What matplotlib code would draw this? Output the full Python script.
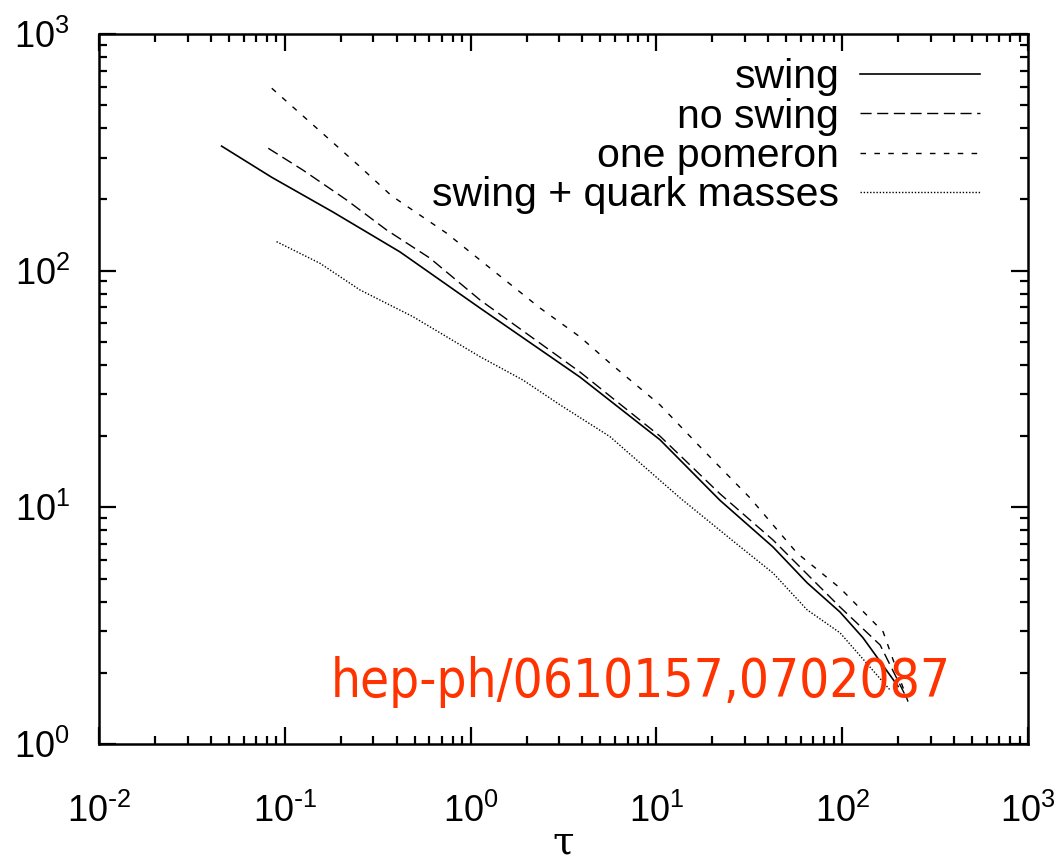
import matplotlib
matplotlib.use("Agg")
import matplotlib.pyplot as plt
from matplotlib.ticker import LogLocator, FuncFormatter
import numpy as np

# values (log-log)
swing_x = [0.0457, 0.0851, 0.1815, 0.417, 1.124, 3.88, 10.45, 22.0, 42.4, 64.7, 97.3, 129.4, 200]
swing_y = [336, 248, 177, 120, 69.5, 35.5, 19.3, 10.7, 6.80, 4.80, 3.61, 2.81, 1.75]

noswing_x = [0.0815, 0.1253, 0.215, 0.353, 0.604, 1.124, 3.88, 10.45, 22.0, 42.4, 97.3, 160, 218]
noswing_y = [329, 266, 199, 148.6, 113, 75.2, 37.3, 20.0, 11.4, 7.28, 3.79, 2.62, 1.61]

pomeron_x = [0.0851, 0.1486, 0.254, 0.376, 0.743, 1.272, 2.36, 3.88, 5.62, 10.45, 17.2, 31.9, 57.1, 97.3, 166, 226]
pomeron_y = [590, 400, 275, 207, 144, 102.6, 69.6, 52.5, 40.7, 27.1, 18.0, 10.96, 6.41, 4.56, 2.98, 1.51]

quark_x = [0.0903, 0.1545, 0.254, 0.490, 1.124, 1.914, 3.03, 5.62, 13.4, 28.2, 42.4, 64.7, 97.3, 181]
quark_y = [132.6, 107.5, 82.9, 63.9, 43.3, 34.5, 27.1, 19.9, 10.96, 6.82, 5.28, 3.69, 2.95, 1.69]

labels = ["swing", "no swing", "one pomeron", "swing + quark masses"]

plt.rcParams["font.family"] = ["Liberation Sans", "DejaVu Sans"]
plt.rcParams["mathtext.default"] = "regular"


def pow10(v, pos):
    e = int(round(np.log10(v)))
    if e < 0:
        return r"$10^{\text{-}%d}$" % (-e)
    return r"$10^{%d}$" % e


fig = plt.figure(figsize=(10.63, 8.61), dpi=100)
ax = fig.add_axes([0.0931, 0.1359, 0.8740, 0.8246])

ax.plot(swing_x, swing_y, color="black", lw=1.2, label=labels[0])
ax.plot(noswing_x, noswing_y, color="black", lw=1.0, dashes=(8, 4), label=labels[1])
ax.plot(pomeron_x, pomeron_y, color="black", lw=1.0, dashes=(4, 6), label=labels[2])
ax.plot(quark_x, quark_y, color="black", lw=1.0, dashes=(1, 1.3), label=labels[3])

ax.set_xscale("log")
ax.set_yscale("log")
ax.set_xlim(1e-2, 1e3)
ax.set_ylim(1e0, 1e3)

ax.xaxis.set_major_locator(LogLocator(base=10, numticks=10))
ax.yaxis.set_major_locator(LogLocator(base=10, numticks=10))
ax.xaxis.set_minor_locator(LogLocator(base=10, subs=range(2, 10), numticks=20))
ax.yaxis.set_minor_locator(LogLocator(base=10, subs=range(2, 10), numticks=20))
ax.xaxis.set_major_formatter(FuncFormatter(pow10))
ax.yaxis.set_major_formatter(FuncFormatter(pow10))

ax.tick_params(which="both", direction="in", top=True, right=True, width=1.6, labelsize=26)
ax.tick_params(which="major", length=12)
ax.tick_params(which="minor", length=6)
ax.tick_params(axis="x", which="major", pad=36)
ax.tick_params(axis="y", which="major", pad=21)
for s in ax.spines.values():
    s.set_linewidth(1.8)

ax.set_xlabel("τ", fontsize=28, family="DejaVu Serif", labelpad=-4)

ax.legend(loc="upper right", bbox_to_anchor=(0.979, 1.006), frameon=False, markerfirst=False,
          fontsize=29.5, handlelength=2.93, handletextpad=0.5, labelspacing=0.03, borderpad=0.2)

ax.text(0.249, 0.066, "hep-ph/0610157,0702087", transform=ax.transAxes, ha="left", va="baseline",
        fontsize=38, color="#ff3300", family="DejaVu Sans", fontstretch="condensed")

fig.savefig("out.png", dpi=100)
